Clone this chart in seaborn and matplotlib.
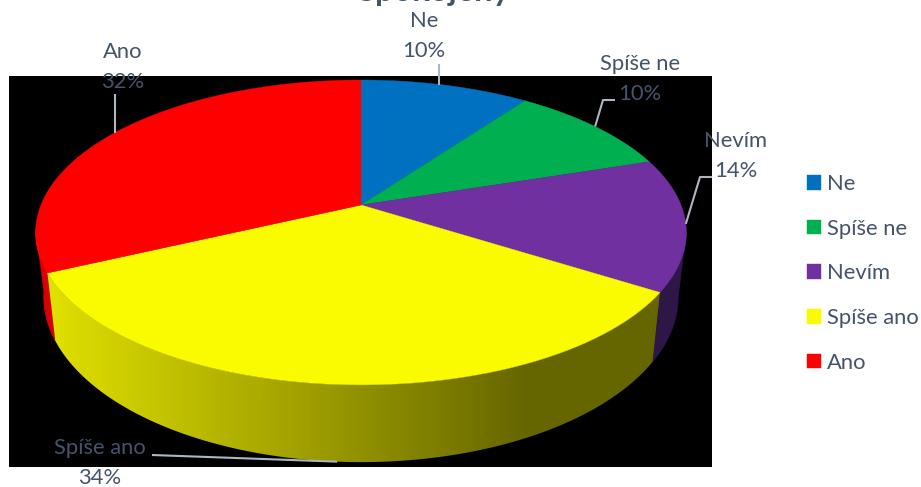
import numpy as np
import matplotlib
matplotlib.use("Agg")
import matplotlib.pyplot as plt
from matplotlib.patches import Polygon, Rectangle
import seaborn as sns

categories = ["Ne", "Spíše ne", "Nevím", "Spíše ano", "Ano"]
values = [10, 10, 14, 34, 32]
top_colors = ["#0070C0", "#00B050", "#7030A0", "#FAFA00", "#FF0000"]
side_colors = ["#003860", "#005828", "#2E1747", None, "#D80000"]
title = "Spokojený"

sns.set_theme(style="white")
plt.rcParams["font.family"] = ["Lato", "DejaVu Sans"]
TEXT = "#44546A"
LEADER = "#AEB6C2"
FS = 15.8

W, H = 921, 487
fig = plt.figure(figsize=(W / 100, H / 100), dpi=100)
ax = fig.add_axes([0, 0, 1, 1])

# chart-area backdrop
ax.add_patch(Rectangle((9, 76), 703, 391, fc="black", ec="none", zorder=0))

# perspective projection of the unit disc onto the image plane
K = 0.18


def project(t, cx, cy, a, b):
    X, Y = np.sin(t), np.cos(t)
    d = 1 + K * Y
    return cx + a * X / d, cy - b * Y / d


def top_rim(t):
    return project(t, 361, 205, 320, 147.5)


def bottom_rim(t):
    return project(t, 361, 267, 312, 160)


def arc(fn, t0, t1, n=160):
    x, y = fn(np.linspace(t0, t1, n))
    return np.column_stack([x, y])


shares = np.asarray(values, float) / sum(values)
edges = np.concatenate([[0], np.cumsum(shares)]) * 2 * np.pi
mids = (edges[:-1] + edges[1:]) / 2
apex = np.array([[361, 205]])

# visible side walls: right edge of the third wedge and left edge of the last
right_limit = np.arccos(-K)
left_limit = 2 * np.pi - np.arccos(-K) + 0.03


def wall_outline(t0, t1):
    return np.vstack([arc(top_rim, t0, t1), arc(bottom_rim, t0, t1)[::-1]])


def side_wall(t0, t1, color, z):
    ax.add_patch(Polygon(wall_outline(t0, t1), closed=True, fc=color, ec=color,
                         lw=0.5, zorder=z))


side_wall(right_limit, edges[3], side_colors[2], 1)
side_wall(edges[4], left_limit, side_colors[4], 1)

# the front wall is shaded from bright on the left to dark on the right
x0, x1 = 40, 670
shade = sns.blend_palette(["#E0E000", "#666600"], n_colors=256)
ramp_x = np.arange(x0, x1)
ramp_idx = (np.clip((ramp_x - 50) / (525 - 50), 0, 1) * 255).astype(int)
ramp = np.asarray(shade)[ramp_idx][np.newaxis, :, :]
front = Polygon(wall_outline(edges[3], edges[4]), closed=True, fc="none", ec="none",
                transform=ax.transData)
ax.add_patch(front)
img = ax.imshow(ramp, extent=(x0, x1, 470, 260), aspect="auto", zorder=2,
                interpolation="bilinear")
img.set_clip_path(front)

ax.set_xlim(0, W)
ax.set_ylim(H, 0)
ax.axis("off")

# top faces
handles = []
for i, (name, color) in enumerate(zip(categories, top_colors)):
    pts = np.vstack([apex, arc(top_rim, edges[i], edges[i + 1])])
    handles.append(ax.add_patch(Polygon(pts, closed=True, fc=color, ec=color,
                                        lw=0.3, zorder=3, label=name)))

# label positions and leader-line elbows, in pixels
label_xy = [(424, 21), (640, 64), (736, 141), (100, 448.5), (123, 52)]
leader_start = [(439, 64), (615, 100), (712, 177), (152, 455), (115, 94)]
leader_elbow = [None, (603, 100), (700, 177), None, None]

for i, name in enumerate(categories):
    rim = bottom_rim if name == "Spíše ano" else top_rim
    ex, ey = rim(mids[i])
    sx, sy = leader_start[i]
    if leader_elbow[i] is None:
        if sx == 439 or sx == 115:
            ex = sx
        xs, ys = [sx, ex], [sy, ey]
    else:
        xs, ys = [sx, leader_elbow[i][0], ex], [sy, leader_elbow[i][1], ey]
    ax.plot(xs, ys, color=LEADER, lw=1.5, zorder=4, solid_capstyle="butt")
    lx, ly = label_xy[i]
    ax.text(lx, ly, name, color=TEXT, fontsize=FS, ha="center", va="center", zorder=5)
    ax.text(lx, ly + 30, f"{values[i]}%", color=TEXT, fontsize=FS, ha="center",
            va="center", zorder=5)

ax.text(434, 1, title, color=TEXT, fontsize=23.5, fontweight="bold", ha="center",
        va="baseline", zorder=5)

leg = ax.legend(handles=handles, loc="upper left",
                bbox_to_anchor=(807 / W, 1 - 174 / H),
                bbox_transform=fig.transFigure, frameon=False, fontsize=FS,
                handlelength=0.64, handleheight=0.64, handletextpad=0.27,
                labelspacing=1.125, borderpad=0, borderaxespad=0, labelcolor=TEXT)
leg.set_zorder(6)

fig.savefig("out.png", dpi=100)
